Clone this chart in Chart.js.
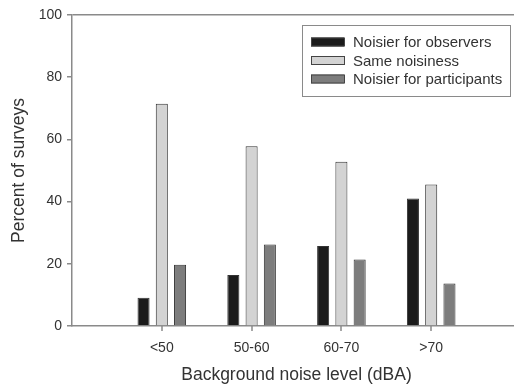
<!DOCTYPE html>
<html>
<head>
<meta charset="utf-8">
<script src="https://cdn.jsdelivr.net/npm/chart.js@4"></script>
<style>
  html, body { margin: 0; padding: 0; background: #fff; overflow: hidden; }
  #wrap { width: 514px; height: 388px; overflow: hidden; }
</style>
</head>
<body>
<div id="wrap"><canvas id="noiseChart" width="521" height="388"></canvas></div>
<script>
// --- data ---
const categories = ['', '<50', '50-60', '60-70', '>70', ''];
const seriesNames = ['Noisier for observers', 'Same noisiness', 'Noisier for participants'];
const observers = [null, 9.1, 16.4, 25.7, 41.0, null];
const same = [null, 71.5, 57.8, 52.8, 45.5, null];
const participants = [null, 19.7, 26.2, 21.4, 13.7, null];
const yTicks = [0, 20, 40, 60, 80, 100];

const fillColors = ['#1b1b1b', '#d3d3d3', '#7d7d7d'];
const axisGray = '#8a8a8a';
const textColor = '#333';
const FONT = "'Liberation Sans', Arial, sans-serif";

Chart.defaults.font.family = FONT;
Chart.defaults.color = textColor;

// category tick marks under the x axis (only for the real categories)
const xTickMarks = {
  id: 'xTickMarks',
  afterDraw(chart) {
    const sx = chart.scales.x;
    const y0 = chart.chartArea.bottom;
    const ctx = chart.ctx;
    ctx.save();
    ctx.strokeStyle = axisGray;
    ctx.lineWidth = 1.5;
    categories.forEach((lab, i) => {
      if (!lab) return;
      const px = Math.round(sx.getPixelForValue(i));
      ctx.beginPath();
      ctx.moveTo(px, y0);
      ctx.lineTo(px, y0 + 5);
      ctx.stroke();
    });
    ctx.restore();
  }
};

// legend drawn inside the plot, with a box around it
const boxLegend = {
  id: 'boxLegend',
  afterDraw(chart) {
    const ctx = chart.ctx;
    const x0 = 302, y0 = 25, w = 208, h = 71;
    ctx.save();
    ctx.strokeStyle = axisGray;
    ctx.lineWidth = 1;
    ctx.fillStyle = '#fff';
    ctx.fillRect(x0, y0, w, h);
    ctx.strokeRect(x0 + 0.5, y0 + 0.5, w, h);
    ctx.font = '15px ' + FONT;
    ctx.textBaseline = 'middle';
    chart.data.datasets.forEach((ds, i) => {
      const cy = 42 + i * 18.5;
      ctx.fillStyle = ds.backgroundColor;
      ctx.fillRect(311, cy - 4.5, 33, 9);
      ctx.strokeStyle = '#444';
      ctx.strokeRect(311.5, cy - 4, 33, 8);
      ctx.fillStyle = textColor;
      ctx.fillText(ds.label, 353, cy + 1);
    });
    ctx.restore();
  }
};

const ctx = document.getElementById('noiseChart').getContext('2d');
new Chart(ctx, {
  type: 'bar',
  data: {
    labels: categories,
    datasets: [observers, same, participants].map((d, i) => ({
      label: seriesNames[i],
      data: d,
      backgroundColor: fillColors[i],
      borderColor: '#333',
      borderWidth: 1,
      categoryPercentage: 0.61,
      barPercentage: 0.66
    }))
  },
  options: {
    responsive: false,
    animation: false,
    layout: { padding: { left: 0, top: 15, right: 0, bottom: 0 } },
    plugins: { legend: { display: false }, tooltip: { enabled: false } },
    scales: {
      x: {
        offset: false,
        grid: { offset: false, drawOnChartArea: false, drawTicks: false },
        border: { color: axisGray, width: 1.5 },
        ticks: { font: { size: 14 }, color: textColor, padding: 14, maxRotation: 0, autoSkip: false },
        title: { display: true, text: 'Background noise level (dBA)', font: { size: 17.5 }, color: textColor, padding: { top: 0, bottom: 2 } },
        afterFit: s => { s.height = 62; s.paddingLeft = 0; s.paddingRight = 0; }
      },
      y: {
        min: 0, max: 100,
        afterBuildTicks: s => { s.ticks = yTicks.map(v => ({ value: v })); },
        grid: {
          color: c => c.tick && c.tick.value === 100 ? axisGray : 'transparent',
          lineWidth: 1.5,
          tickLength: 5,
          tickColor: axisGray
        },
        border: { color: axisGray, width: 1.5 },
        ticks: { font: { size: 14 }, color: textColor, padding: 5 },
        title: { display: true, text: 'Percent of surveys', font: { size: 17.5 }, color: textColor, padding: { top: 9, bottom: 0 } },
        afterFit: s => { s.width = 72; }
      }
    }
  },
  plugins: [xTickMarks, boxLegend]
});
</script>
</body>
</html>
